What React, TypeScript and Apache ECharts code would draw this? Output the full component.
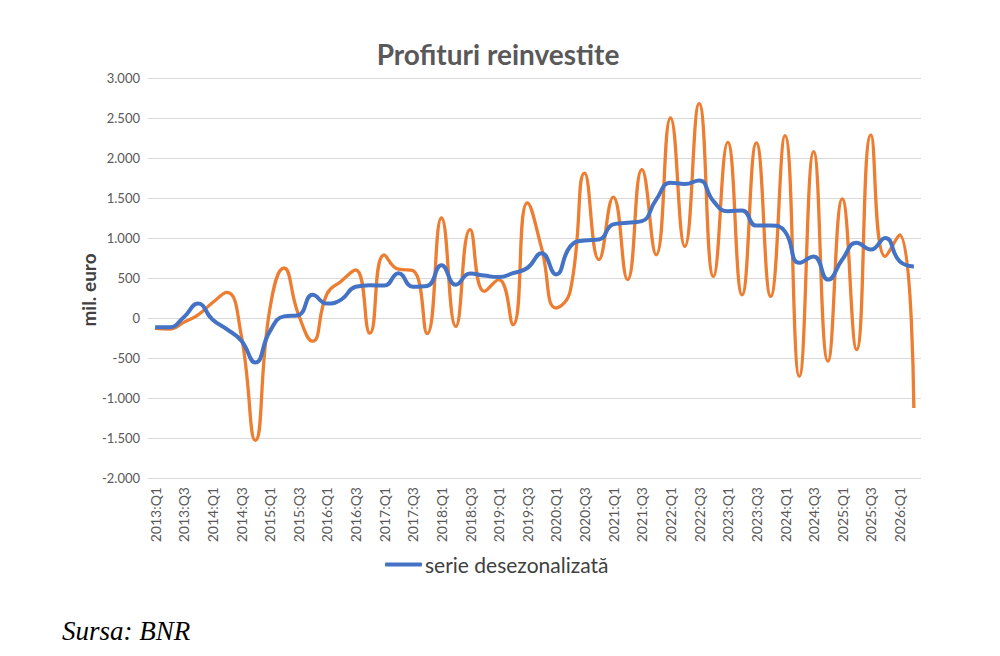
import React, { useEffect, useRef } from "react";
import * as echarts from "echarts";

const years = [2013, 2014, 2015, 2016, 2017, 2018, 2019, 2020, 2021, 2022, 2023, 2024, 2025, 2026];
const categories: string[] = [];
years.forEach((y) => {
  for (let q = 1; q <= 4; q++) categories.push(`${y}:Q${q}`);
});
const quarters = categories.slice(0, 54); // 2013:Q1 .. 2026:Q2

const rawSeries = [
  -130, -140, -55, 40, 190, 320, -200, -1530, 100, 625,
  50, -290, 300, 460, 600, -190, 790, 610, 595, -195,
  1250, -105, 1105, 333, 480, -85, 1440, 870, 125, 340,
  1810, 730, 1510, 480, 1855, 790, 2500, 895, 2680, 520,
  2195, 290, 2190, 270, 2280, -730, 2080, -540, 1490, -395,
  2290, 770, 1040, -1125,
];

const adjustedSeries = [
  -115, -115, 10, 180, -20, -140, -280, -555, -170, 20,
  35, 290, 180, 230, 390, 410, 405, 560, 390, 400,
  660, 415, 555, 530, 512, 560, 625, 810, 545, 895,
  970, 980, 1170, 1190, 1210, 1480, 1690, 1675, 1720, 1460,
  1335, 1345, 1155, 1155, 1080, 690, 770, 480, 730, 940,
  855, 1000, 710, 645,
];

const title = "Profituri reinvestite";
const yAxisName = "mil. euro";
const legendName = "serie desezonalizată";
const sourceText = "Sursa: BNR";

const fmt = (v: number) => {
  const s = Math.abs(v).toString().replace(/\B(?=(\d{3})+(?!\d))/g, ".");
  return (v < 0 ? "-" : "") + s;
};

export default function App() {
  const ref = useRef<HTMLDivElement>(null);
  useEffect(() => {
    if (!ref.current) return;
    const chart = echarts.init(ref.current, null, { renderer: "svg" });
    const font = "Lato, 'Noto Sans', sans-serif";
    chart.setOption({
      animation: false,
      backgroundColor: "#ffffff",
      title: {
        text: title,
        left: 493,
        textAlign: "center",
        top: 35,
        textStyle: { fontFamily: font, fontSize: 28, fontWeight: "bold", color: "#595959" },
      },
      legend: {
        data: [legendName],
        left: 385,
        top: 554,
        padding: 0,
        icon: "roundRect",
        itemWidth: 37,
        itemHeight: 4,
        itemGap: 4,
        textStyle: { fontFamily: font, fontSize: 21, color: "#404040", padding: [0, 0, 0, -2] },
      },
      grid: { left: 148, right: 79, top: 78, bottom: 178, containLabel: false },
      xAxis: {
        type: "category",
        data: quarters,
        boundaryGap: true,
        axisLine: { show: false },
        axisTick: { show: false },
        axisLabel: {
          rotate: 90,
          interval: 1,
          margin: 9,
          fontFamily: font,
          fontSize: 14,
          color: "#595959",
        },
      },
      yAxis: {
        type: "value",
        min: -2000,
        max: 3000,
        interval: 500,
        axisLine: { show: false },
        axisTick: { show: false },
        axisLabel: {
          formatter: (v: number) => fmt(v),
          fontFamily: font,
          fontSize: 13,
          color: "#595959",
          margin: 8,
        },
        splitLine: { lineStyle: { color: "#d9d9d9", width: 1 } },
      },
      series: [
        {
          name: "serie bruta",
          type: "line",
          data: rawSeries,
          smooth: 0.5,
          symbol: "none",
          lineStyle: { color: "#ED7D31", width: 3.3 },
          itemStyle: { color: "#ED7D31" },
          z: 2,
        },
        {
          name: legendName,
          type: "line",
          data: adjustedSeries,
          smooth: 0.5,
          symbol: "none",
          lineStyle: { color: "#4472C4", width: 4 },
          itemStyle: { color: "#4472C4" },
          z: 3,
        },
      ],
      graphic: [
        {
          type: "text",
          x: 88,
          y: 290,
          rotation: Math.PI / 2,
          style: {
            text: yAxisName,
            font: "bold 19px Lato, 'Noto Sans', sans-serif",
            fill: "#404040",
            align: "center",
            verticalAlign: "middle",
          },
        },
        {
          type: "text",
          left: 62,
          top: 617,
          style: {
            text: sourceText,
            font: "italic 27px 'Liberation Serif', 'DejaVu Serif', serif",
            fill: "#000000",
          },
        },
      ],
    });
    return () => chart.dispose();
  }, []);
  return (
    <div
      ref={ref}
      style={{ position: "fixed", left: 0, top: 0, width: 1000, height: 656, background: "#fff" }}
    />
  );
}
